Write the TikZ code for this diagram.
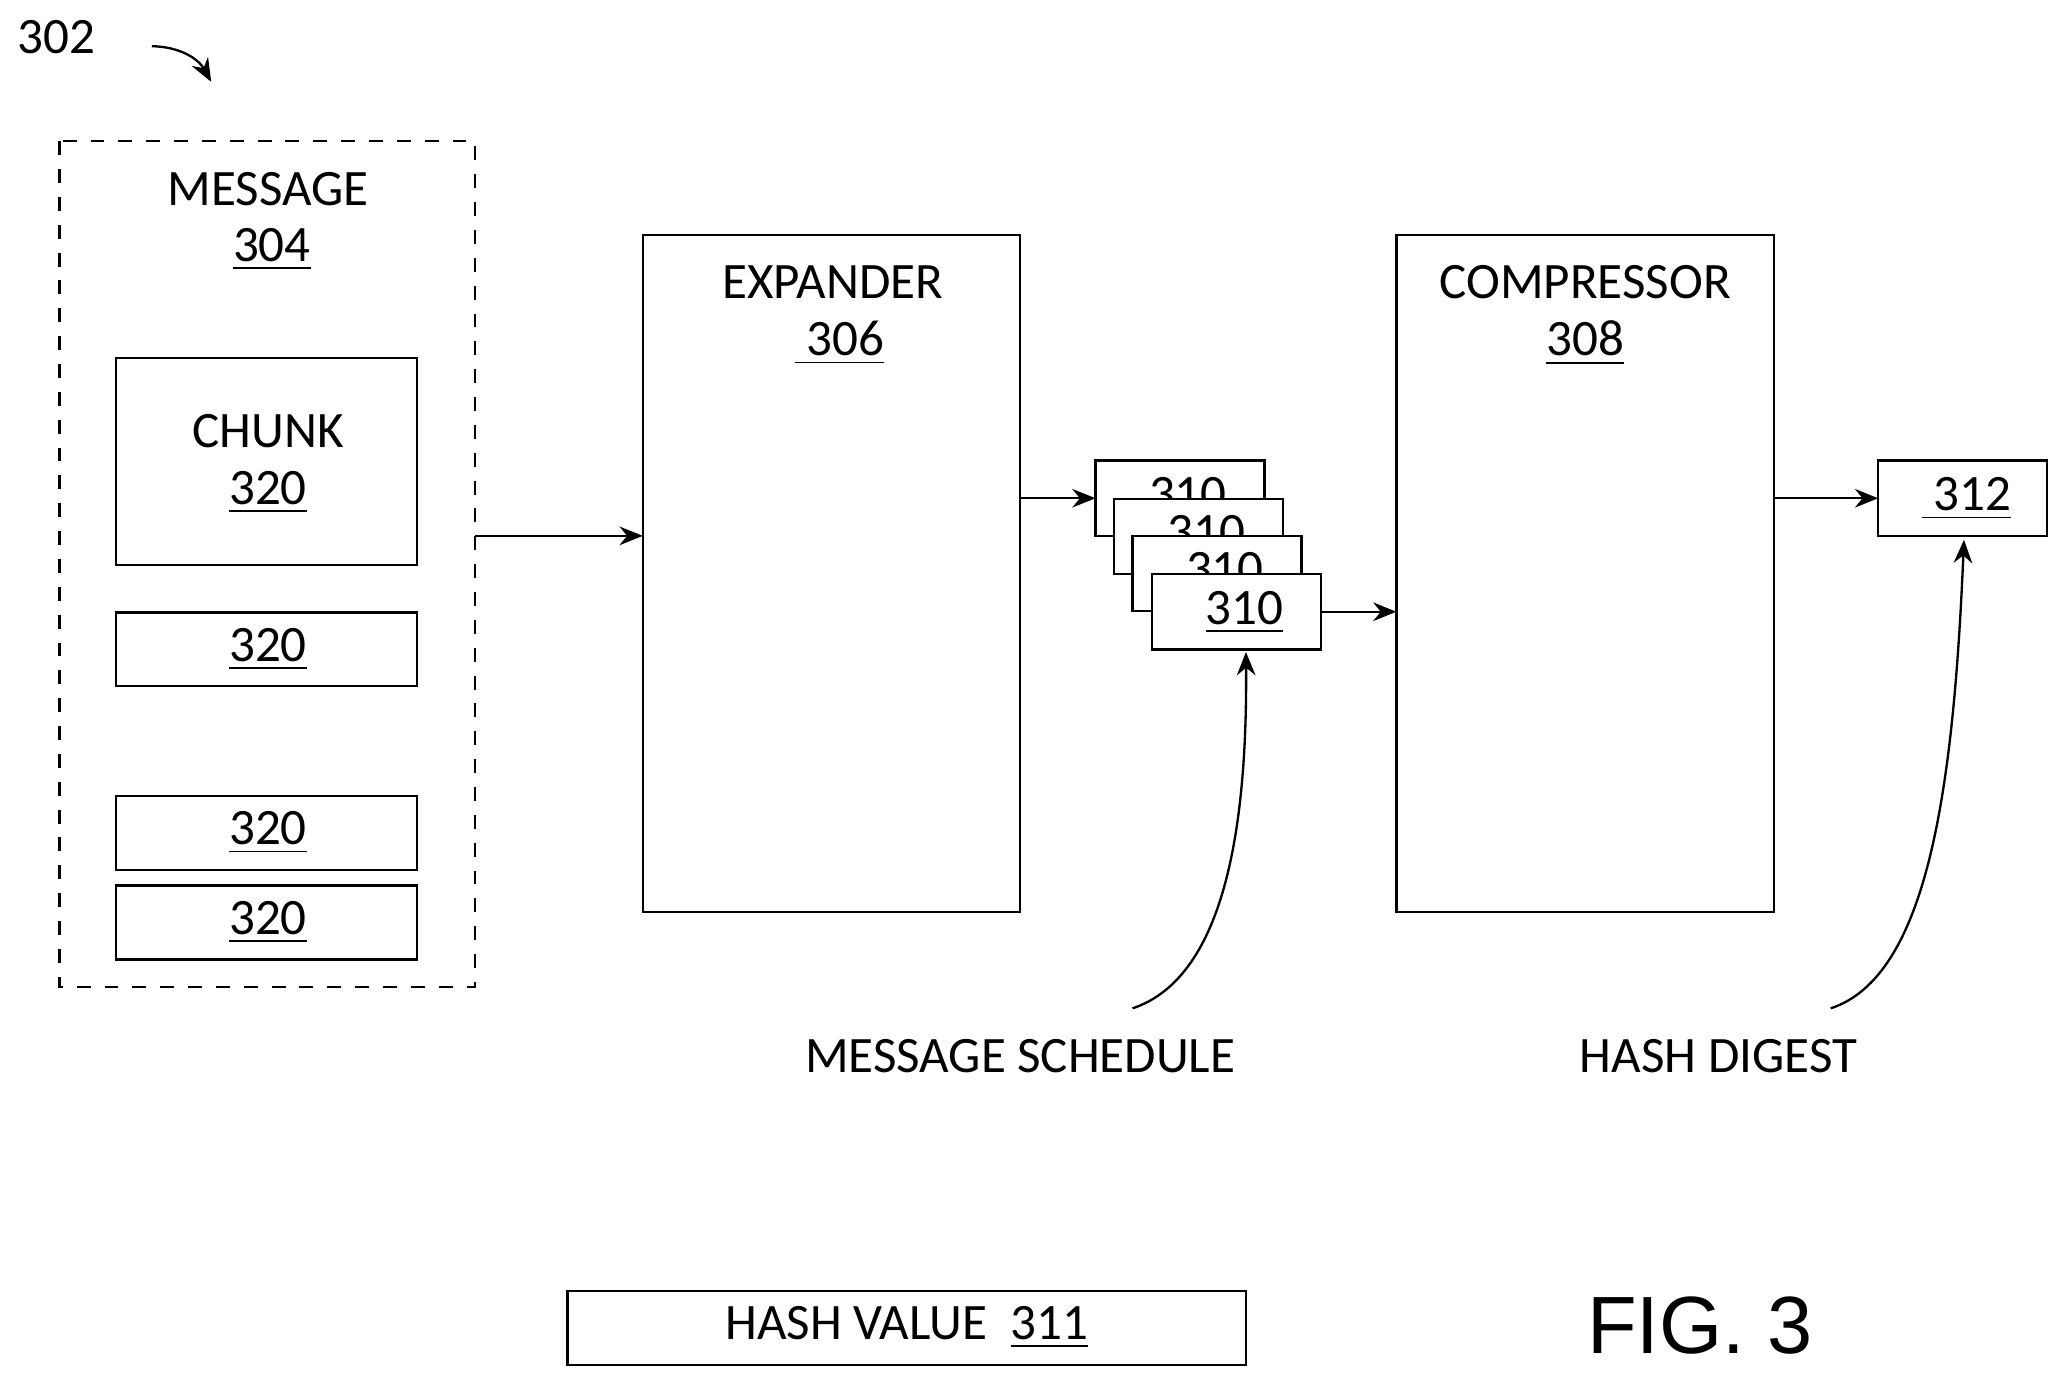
\documentclass[tikz,border=0pt]{standalone}
\usepackage{fontspec}
\setmainfont{Carlito}
\newfontfamily\figfont{Liberation Sans}
\usetikzlibrary{arrows.meta}
\begin{document}
\begin{tikzpicture}[x=0.01cm,y=-0.01cm,
  bx/.style={draw,line width=0.5pt,fill=white,outer sep=0pt},
  lbl/.style={font=\fontsize{11}{13}\selectfont,inner sep=0pt},
  ar/.style={line width=0.5pt,-{Stealth[length=5pt,width=4pt]}}]
\useasboundingbox (0,0) rectangle (1560,1046);
\node[lbl] (n302) at (43,28) {302};
\coordinate (c1) at (115,35); \coordinate (c2) at (160,62);
\draw[ar] (c1) to[bend left=30] (c2);
\draw[dashed,line width=0.5pt] (45,107) rectangle (360,748);
\node[lbl] (msg) at (203,143) {MESSAGE};
\node[lbl] (n304) at (206,189) {\underline{304}};
\draw[bx] (88,271) rectangle (316,428);
\node[lbl] at (203,327) {CHUNK};
\node[lbl] at (203,373) {\underline{320}};
\draw[bx] (88,464) rectangle (316,520); \node[lbl] at (203,492) {\underline{320}};
\draw[bx] (88,603) rectangle (316,659); \node[lbl] at (203,631) {\underline{320}};
\draw[bx] (88,671) rectangle (316,727); \node[lbl] at (203,699) {\underline{320}};
\coordinate (m) at (360,406);
\node[bx,minimum width=286*0.01cm,minimum height=513*0.01cm,anchor=north west] (exp) at (487,178) {};
\node[lbl] at (631,214) {EXPANDER};
\node[lbl] at (636,260) {\underline{\ 306}};
\draw[ar] (m) -- (exp.west|-m);
\node[bx,minimum width=286*0.01cm,minimum height=513*0.01cm,anchor=north west] (cmp) at (1058,178) {};
\node[lbl] at (1201,214) {COMPRESSOR};
\node[lbl] at (1201,260) {\underline{308}};
\foreach \i/\x/\y in {a/830/349,b/844/378,c/858/406,d/873/435}{
  \node[bx,minimum width=128*0.01cm,minimum height=57*0.01cm,anchor=north west,inner sep=0pt] (s\i) at (\x,\y) {};
  \node[lbl] at (\x+70,\y+29) {\underline{310}};
}
\draw[ar] (exp.east|-sa.west) -- (sa.west);
\draw[ar] (sd.east) -- (cmp.west|-sd.east);
\node[bx,minimum width=128*0.01cm,minimum height=57*0.01cm,anchor=north west,inner sep=0pt] (h) at (1423,349) {};
\node[lbl] at (1490,378) {\underline{\ 312}};
\draw[ar] (cmp.east|-h.west) -- (h.west);
\node[lbl] (ms) at (773,800) {MESSAGE SCHEDULE};
\node[lbl] (hd) at (1302,800) {HASH DIGEST};
\coordinate (k1) at (858,764); \coordinate (k2) at (1387,764);
\draw[ar] (k1) .. controls (930,740) and (945,620) .. (944,494);
\draw[ar] (k2) .. controls (1460,740) and (1480,600) .. (1488,409);
\node[bx,minimum width=514*0.01cm,minimum height=56*0.01cm] (hv) at (687,1006) {};
\node[lbl] at (687,1006) {HASH VALUE\ \ \underline{311}};
\node[font=\figfont\fontsize{17.5}{20}\selectfont,inner sep=0pt] at (1288,1004) {FIG. 3};
\end{tikzpicture}
\end{document}
